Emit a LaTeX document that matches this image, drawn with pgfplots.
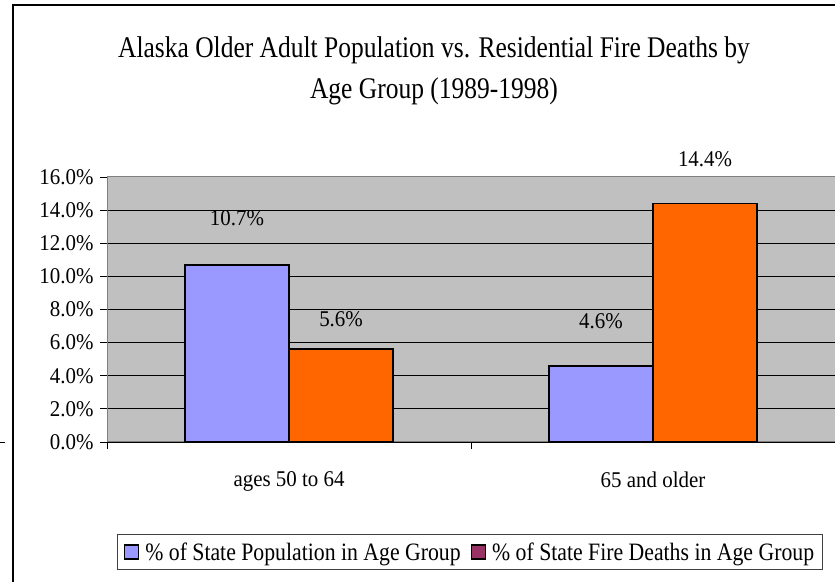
\documentclass[border=0pt]{standalone}
\usepackage{pgfplots}
\pgfplotsset{compat=1.18}
\usepackage{fontspec}
\setmainfont{Liberation Serif}
\newfontfamily\titlefont{Liberation Serif}[FakeStretch=0.85]
\newfontfamily\legfont{Liberation Serif}[FakeStretch=0.87]
\newfontfamily\tickfont{Liberation Serif}[FakeStretch=0.93]
\definecolor{popblue}{HTML}{9999FF}
\definecolor{fireorange}{HTML}{FF6600}
\definecolor{legmaroon}{HTML}{993366}
\definecolor{plotgray}{HTML}{C0C0C0}
\definecolor{bordergray}{HTML}{808080}
\begin{document}
\begin{tikzpicture}
\useasboundingbox (0bp,0bp) rectangle (835bp,582bp);
\clip (0bp,0bp) rectangle (835bp,582bp);
\draw[line width=2bp] (13bp,-5bp) -- (13bp,577bp) -- (840bp,577bp);
\draw[line width=1bp] (0bp,139bp) -- (5bp,139bp);
\node[anchor=base, font=\titlefont\fontsize{30bp}{36bp}\selectfont, inner sep=0pt] at (434bp,524bp) {Alaska Older Adult Population vs. Residential Fire Deaths by};
\node[anchor=base, font=\titlefont\fontsize{30bp}{36bp}\selectfont, inner sep=0pt] at (434bp,483bp) {Age Group (1989-1998)};
\begin{axis}[
  at={(107bp,140bp)}, anchor=south west,
  scale only axis, width=728bp, height=265bp,
  xmin=-0.5, xmax=1.5, ymin=0, ymax=16,
  axis background/.style={fill=plotgray},
  axis line style={bordergray, line width=1bp},
  ybar=0pt, bar width=104bp,
  ytick={0,2,...,14},
  extra y ticks={16}, extra y tick style={grid=none},
  yticklabel={\pgfmathprintnumber[fixed,fixed zerofill,precision=1]{\tick}\%},
  /pgf/number format/assume math mode=true,
  ymajorgrids, grid style={black, line width=0.8bp},
  xtick={-0.5,0.5,1.5}, xticklabels={},
  extra x ticks={0,1}, extra x tick labels={ages 50 to 64, 65 and older},
  extra x tick style={major tick length=0pt, grid=none, xticklabel style={yshift=-26bp}},
  xtick pos=lower, ytick pos=left,
  tick align=outside, major tick length=7bp, tick style={black, line width=0.8bp},
  ticklabel style={font=\tickfont\fontsize{22.5bp}{26bp}\selectfont},
  yticklabel style={xshift=-3bp},
  clip=false,
  legend columns=2,
  legend image code/.code={\draw[#1, draw=black, line width=1.5bp] (0bp,-7bp) rectangle (14bp,7bp);},
  legend style={at={(0.4986,-0.415)}, anchor=center, draw=black!75, line width=1.2bp, fill=white,
    font=\legfont\fontsize{25bp}{30bp}\selectfont, inner xsep=6bp, inner ysep=6bp,
    /tikz/every odd column/.append style={column sep=4bp},
    /tikz/every even column/.append style={column sep=8bp}},
]
\addplot[fill=popblue, draw=black, line width=1.5bp] coordinates {(0,10.7) (1,4.6)};
\addlegendentry{\% of State Population in Age Group}
\addplot[fill=fireorange, draw=black, line width=1.5bp, legend image post style={fill=legmaroon}] coordinates {(0,5.6) (1,14.4)};
\addlegendentry{\% of State Fire Deaths in Age Group}
\node[font=\tickfont\fontsize{22.5bp}{26bp}\selectfont] at (axis cs:-0.143,13.5) {10.7\%};
\node[font=\tickfont\fontsize{22.5bp}{26bp}\selectfont] at (axis cs:0.143,7.4) {5.6\%};
\node[font=\tickfont\fontsize{22.5bp}{26bp}\selectfont] at (axis cs:0.857,7.3) {4.6\%};
\node[font=\tickfont\fontsize{22.5bp}{26bp}\selectfont] at (axis cs:1.143,17.05) {14.4\%};
\end{axis}
\end{tikzpicture}
\end{document}
